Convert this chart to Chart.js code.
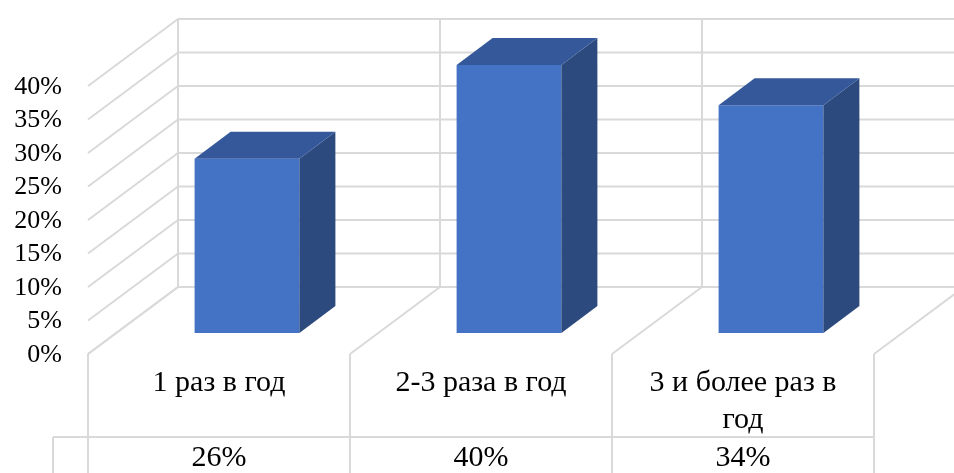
<!DOCTYPE html>
<html>
<head>
<meta charset="utf-8">
<script src="https://cdn.jsdelivr.net/npm/chart.js@4"></script>
<style>
  html, body { margin: 0; padding: 0; background: #fff; }
  #wrap { width: 954px; height: 473px; position: relative; }
</style>
</head>
<body>
<div id="wrap"><canvas id="c"></canvas></div>
<script>
// Частота (доля респондентов, %)
const categories = ['1 раз в год', '2-3 раза в год', '3 и более раз в год'];
const shares = [26, 40, 34];
const yTicks = [0, 5, 10, 15, 20, 25, 30, 35, 40];

const FRONT = '#4472C4', TOP = '#34589A', SIDE = '#2C4A7E', GRID = '#d9d9d9';
const SERIF = '"Liberation Serif", "Times New Roman", serif';

// Offsets of the 3D planes relative to the plane of the bar front faces
const depth = {
  front: { dx: -28, dy: 21 },   // axis / label plane
  back:  { dx: 62,  dy: -46 },  // back wall
  bar:   { dx: 36,  dy: -27 }   // bar thickness
};

function line(ctx, x1, y1, x2, y2) {
  ctx.beginPath(); ctx.moveTo(x1, y1); ctx.lineTo(x2, y2); ctx.stroke();
}

function wrapText(ctx, text, maxW) {
  const words = text.split(' '); const lines = []; let cur = '';
  for (const w of words) {
    const t = cur ? cur + ' ' + w : w;
    if (ctx.measureText(t).width > maxW && cur) { lines.push(cur); cur = w; } else cur = t;
  }
  if (cur) lines.push(cur);
  return lines;
}

const walls3d = {
  id: 'walls3d',
  beforeDatasetsDraw(chart) {
    const { ctx, scales: { x, y } } = chart;
    const n = categories.length;
    const step = (x.right - x.left) / n;
    const bounds = [];
    for (let i = 0; i <= n; i++) bounds.push(x.left + i * step);
    const W = chart.width;
    const f = depth.front, b = depth.back;
    const y0 = y.getPixelForValue(0), yTop = y.getPixelForValue(yTicks[yTicks.length - 1]);
    ctx.save();
    ctx.strokeStyle = GRID; ctx.lineWidth = 2;
    // back wall horizontal lines + left wall diagonals
    for (const v of yTicks) {
      const py = y.getPixelForValue(v);
      line(ctx, bounds[0] + b.dx, py + b.dy, W, py + b.dy);
      line(ctx, bounds[0] + b.dx, py + b.dy, bounds[0] + f.dx, py + f.dy);
    }
    // back wall verticals and floor diagonals at category boundaries
    bounds.forEach((bx, i) => {
      if (i < n) line(ctx, bx + b.dx, yTop + b.dy, bx + b.dx, y0 + b.dy);
      line(ctx, bx + b.dx, y0 + b.dy, bx + f.dx, y0 + f.dy);
    });
    ctx.restore();
  },
  afterDatasetsDraw(chart) {
    const { ctx } = chart;
    const d = depth.bar;
    chart.getDatasetMeta(0).data.forEach(el => {
      const l = el.x - el.width / 2, r = el.x + el.width / 2, t = el.y, bt = el.base;
      ctx.save();
      ctx.fillStyle = SIDE;
      ctx.beginPath();
      ctx.moveTo(r, t); ctx.lineTo(r + d.dx, t + d.dy); ctx.lineTo(r + d.dx, bt + d.dy); ctx.lineTo(r, bt);
      ctx.closePath(); ctx.fill();
      ctx.fillStyle = TOP;
      ctx.beginPath();
      ctx.moveTo(l, t); ctx.lineTo(l + d.dx, t + d.dy); ctx.lineTo(r + d.dx, t + d.dy); ctx.lineTo(r, t);
      ctx.closePath(); ctx.fill();
      ctx.restore();
    });
  },
  afterDraw(chart) {
    const { ctx, scales: { x, y } } = chart;
    const n = categories.length;
    const step = (x.right - x.left) / n;
    const f = depth.front;
    const H = chart.height;
    const y0 = y.getPixelForValue(0) + f.dy;
    const tableY = 437;
    ctx.save();
    // front verticals of the category cells and data table
    ctx.strokeStyle = GRID; ctx.lineWidth = 2;
    for (let i = 0; i <= n; i++) {
      const bx = x.left + i * step + f.dx;
      line(ctx, bx, y0, bx, H);
    }
    const tableLeft = x.left + f.dx - 35;
    line(ctx, tableLeft, tableY, x.right + f.dx, tableY);
    line(ctx, tableLeft, tableY, tableLeft, H);

    // y tick labels on the front plane
    ctx.fillStyle = '#000';
    ctx.font = '26px ' + SERIF;
    ctx.textAlign = 'right'; ctx.textBaseline = 'middle';
    for (const v of yTicks) ctx.fillText(v + '%', 62, y.getPixelForValue(v) + f.dy + 1);

    // category labels and table values
    ctx.font = '30px ' + SERIF;
    ctx.textAlign = 'center';
    categories.forEach((c, i) => {
      const cx = x.getPixelForValue(i) + f.dx;
      wrapText(ctx, c, step - 40).forEach((ln, k) => ctx.fillText(ln, cx, 383 + k * 37));
      ctx.fillText(shares[i] + '%', cx, 458);
    });
    ctx.restore();
  }
};

new Chart(document.getElementById('c'), {
  type: 'bar',
  data: {
    labels: categories,
    datasets: [{
      data: shares,
      backgroundColor: FRONT,
      borderWidth: 0,
      barPercentage: 1,
      categoryPercentage: 0.4
    }]
  },
  options: {
    responsive: true,
    maintainAspectRatio: false,
    animation: false,
    layout: { padding: { left: 116, right: 52, top: 65, bottom: 140 } },
    plugins: { legend: { display: false }, tooltip: { enabled: false } },
    scales: {
      x: { display: false },
      y: { display: false, min: 0, max: 40, ticks: { stepSize: 5 } }
    }
  },
  plugins: [walls3d]
});
</script>
</body>
</html>
